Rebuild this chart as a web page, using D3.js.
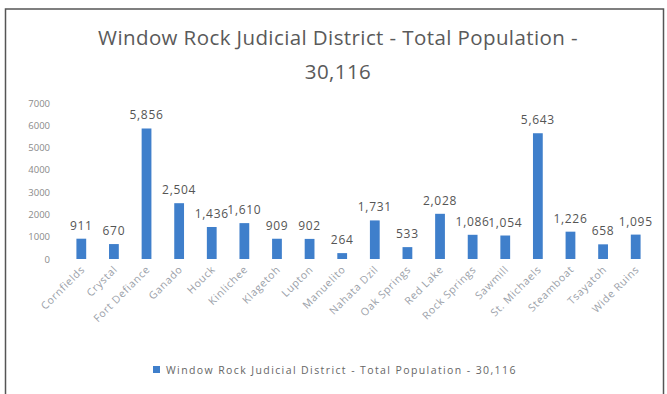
<!DOCTYPE html>
<html>
<head>
<meta charset="utf-8">
<script src="https://cdn.jsdelivr.net/npm/d3@7"></script>
<style>
  body { margin: 0; background: #fff; }
  #chart { width: 667px; height: 394px; }
  text { font-family: "Open Sans", "Liberation Sans", sans-serif; }
</style>
</head>
<body>
<div id="chart"></div>
<script>
// chapters / communities in the district
const places = ["Cornfields", "Crystal", "Fort Defiance", "Ganado", "Houck", "Kinlichee", "Klagetoh", "Lupton", "Manuelito", "Nahata Dzil", "Oak Springs", "Red Lake", "Rock Springs", "Sawmill", "St. Michaels", "Steamboat", "Tsayatoh", "Wide Ruins"];
const population = [911, 670, 5856, 2504, 1436, 1610, 909, 902, 264, 1731, 533, 2028, 1086, 1054, 5643, 1226, 658, 1095];
const yTicks = [0, 1000, 2000, 3000, 4000, 5000, 6000, 7000];
const titleLines = ["Window Rock Judicial District - Total Population -", "30,116"];
const seriesName = "Window Rock Judicial District - Total Population - 30,116";

const width = 667, height = 394;
const margin = { top: 103, left: 65, right: 15, bottom: 135 };
const barColor = "#3f7fcb";

const svg = d3.select("#chart").append("svg")
    .attr("width", width)
    .attr("height", height);

// frame of the chart area
svg.append("rect")
    .attr("x", 5.5).attr("y", 9)
    .attr("width", 658).attr("height", 400)
    .attr("fill", "none")
    .attr("stroke", "#555")
    .attr("stroke-width", 1.5);

/*
SCALES
*/
const xScale = d3.scaleBand()
    .domain(places)
    .range([margin.left, width - margin.right])
    .paddingInner(0.7)
    .paddingOuter(0.35);

const yScale = d3.scaleLinear()
    .domain([0, 7000])
    .range([height - margin.bottom, margin.top]);

/*
AXES
*/
const yAxis = svg.append("g")
    .attr("transform", `translate(${margin.left - 12},0)`)
    .call(d3.axisLeft(yScale).tickValues(yTicks).tickSize(0).tickFormat(d3.format("d")));
yAxis.select(".domain").remove();
yAxis.selectAll("text")
    .attr("fill", "#8a8a8a")
    .style("font-size", "9.5px");

const xAxis = svg.append("g")
    .attr("transform", `translate(0,${height - margin.bottom})`)
    .call(d3.axisBottom(xScale).tickSize(0));
xAxis.select(".domain").remove();
xAxis.selectAll("text")
    .attr("fill", "#9aa0a8")
    .style("font-size", "10.5px")
    .style("letter-spacing", "0.7px")
    .attr("text-anchor", "end")
    .attr("dy", 0)
    .attr("transform", "translate(2,9) rotate(-45)");

/*
BARS + LABELS
*/
const rows = places.map((p, i) => ({ place: p, value: population[i] }));

svg.selectAll(".bar")
    .data(rows)
    .enter()
    .append("rect")
    .attr("class", "bar")
    .attr("x", d => xScale(d.place))
    .attr("y", d => yScale(d.value))
    .attr("width", xScale.bandwidth())
    .attr("height", d => yScale(0) - yScale(d.value))
    .attr("fill", barColor);

svg.selectAll(".val")
    .data(rows)
    .enter()
    .append("text")
    .attr("class", "val")
    .attr("x", d => xScale(d.place) + xScale.bandwidth() / 2)
    .attr("y", d => yScale(d.value) - 9)
    .attr("text-anchor", "middle")
    .attr("fill", "#555")
    .style("font-size", "12px")
    .style("letter-spacing", "0.7px")
    .text(d => d3.format(",")(d.value));

/*
TITLE + LEGEND
*/
svg.selectAll(".title")
    .data(titleLines)
    .enter()
    .append("text")
    .attr("class", "title")
    .attr("x", 338)
    .attr("y", (d, i) => 45 + i * 34)
    .attr("text-anchor", "middle")
    .attr("fill", "#5a5a5a")
    .style("font-size", "20.5px")
    .style("letter-spacing", "0.4px")
    .text(d => d);

svg.append("rect")
    .attr("x", 153).attr("y", 366)
    .attr("width", 7).attr("height", 7)
    .attr("fill", barColor);

svg.append("text")
    .attr("x", 166).attr("y", 374)
    .attr("fill", "#666")
    .style("font-size", "10.5px")
    .style("letter-spacing", "1.4px")
    .text(seriesName);
</script>
</body>
</html>
